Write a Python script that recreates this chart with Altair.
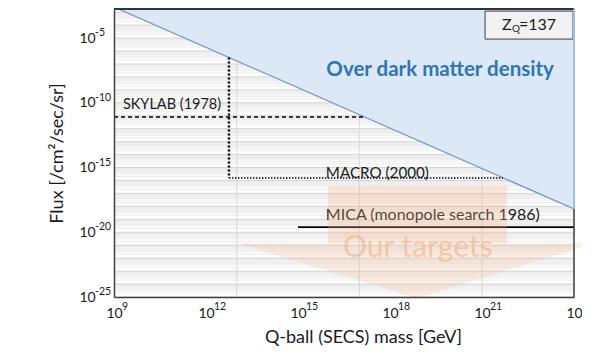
import altair as alt
import pandas as pd

# ---- axis ticks (base "10" with exponents) ----
mass_tick_exp = [9, 12, 15, 18, 21, 24]
mass_tick_exp_labels = ["9", "12", "15", "18", "21", "24"]
flux_tick_exp = [-25, -20, -15, -10, -5]
flux_tick_exp_labels = ["-25", "-20", "-15", "-10", "-5"]
tick_base_label = "10"

mass_domain = [1e9, 1e24]
flux_domain = [1e-25, 1.75e-3]

# ---- gridlines ----
grid_decades = list(range(-25, -2))
grid_minor_mult = [2, 3, 4, 5, 6, 7, 8, 9]
vgrid_mass = [1e13, 1e17, 1e21]

# ---- dark matter density bound ----
dm_mass = [1e9, 1e24]
dm_flux = [2.5e-3, 6.3e-19]

# ---- experimental limits ----
skylab_mass = [1e9, 1.4e17]
skylab_flux = [7.9e-12, 7.9e-12]
macro_v_mass = [5.6e12, 5.6e12]
macro_v_flux = [3.2e-7, 1.55e-16]
macro_h_mass = [5.6e12, 4.8e21]
macro_h_flux = [1.55e-16, 1.55e-16]
mica_mass = [1e15, 1e24]
mica_flux = [2.5e-20, 2.5e-20]

# ---- annotations (data coordinates) ----
label_text = ["SKYLAB (1978)", "MACRO (2000)", "MICA (monopole search 1986)"]
label_mass = [1.95e9, 8.1e15, 8.1e15]
label_flux = [6.8e-11, 3.8e-16, 2.1e-19]
label_size = [14.5, 15.2, 16]

dm_label_text = ["Over dark matter density"]
dm_label_mass = [4.3e19]
dm_label_flux = [3.4e-8]

target_text = ["Our targets"]
target_mass = [8.1e18]
target_flux = [6.0e-22]

arrow_body_mass = [9.5e15, 6.5e21]
arrow_body_flux = [3.7e-17, 1.5e-21]
arrow_head_mass = [1.0e13, 7.6e18, 4.8e24]
arrow_head_top = [1.5e-21, 1.5e-21, 1.5e-21]
arrow_head_bottom = [1.5e-21, 7.9e-26, 1.5e-21]

zbox_mass = [1.26e21, 9.3e23]
zbox_flux = [1.2e-3, 8.3e-6]
ztext_mass = [4.5e21]
ztext_flux = [1.0e-4]

FONT = "Lato"
TXT = "#1a1a1a"

xs = alt.Scale(type="log", domain=mass_domain, nice=False)
ys = alt.Scale(type="log", domain=flux_domain, nice=False)

x_axis = alt.Axis(
    values=[float(f"1e{k}") for k in mass_tick_exp],
    labelExpr=f"'{tick_base_label}'",
    title="Q-ball (SECS) mass [GeV]", grid=False, ticks=False, tickSize=0,
    domain=True, domainColor="#404040", domainWidth=1.5,
    labelFlush=False, labelOverlap=False, labelPadding=16, labelBaseline="middle",
    labelFont=FONT, labelFontSize=14, labelColor=TXT,
    titleFont=FONT, titleFontSize=18, titleFontWeight="normal", titleColor=TXT,
    titleX=249, titleY=40, titleBaseline="middle", zindex=1,
)
y_axis = alt.Axis(
    values=[float(f"1e{k}") for k in flux_tick_exp],
    labelExpr=f"'{tick_base_label}'",
    title="Flux [/cm²/sec/sr]", grid=False, ticks=False, tickSize=0,
    domain=True, domainColor="#404040", domainWidth=1.5,
    labelFlush=False, labelOverlap=False, labelPadding=35, labelAlign="left",
    labelBaseline="middle",
    labelFont=FONT, labelFontSize=14, labelColor=TXT,
    titleFont=FONT, titleFontSize=18, titleFontWeight="normal", titleColor=TXT,
    titleX=-57, titleY=144, titleBaseline="middle", zindex=1,
)


def X(field):
    return alt.X(field, scale=xs, axis=x_axis)


def Y(field):
    return alt.Y(field, scale=ys, axis=y_axis)


minor_vals = [m * 10.0 ** k for k in grid_decades for m in grid_minor_mult
              if m * 10.0 ** k < flux_domain[1]]
major_vals = [float(f"1e{k}") for k in grid_decades]

hminor = alt.Chart(pd.DataFrame({"flux": minor_vals})).mark_rule(
    color="#ececec", strokeWidth=1).encode(y=Y("flux:Q"))
hmajor = alt.Chart(pd.DataFrame({"flux": major_vals})).mark_rule(
    color="#d4d4d4", strokeWidth=1).encode(y=Y("flux:Q"))
vgrid = alt.Chart(pd.DataFrame({"mass": vgrid_mass})).mark_rule(
    color="#dcdcdc", strokeWidth=1.2).encode(x=X("mass:Q"))

dm_df = pd.DataFrame({"mass": dm_mass, "flux": dm_flux, "top": [flux_domain[1]] * 2})
dm_area = alt.Chart(dm_df).mark_area(color="#dce8f5", opacity=1, clip=True).encode(
    x=X("mass:Q"), y=Y("flux:Q"), y2="top:Q")
dm_line = alt.Chart(dm_df).mark_line(color="#6f94c6", strokeWidth=1.2, clip=True).encode(
    x=X("mass:Q"), y=Y("flux:Q"))


def line(mass, flux, **kw):
    return alt.Chart(pd.DataFrame({"mass": mass, "flux": flux})).mark_line(**kw).encode(
        x=X("mass:Q"), y=Y("flux:Q"))


skylab = line(skylab_mass, skylab_flux, color="#000000", strokeWidth=1.6, strokeDash=[4, 3])
macro_v = line(macro_v_mass, macro_v_flux, color="#000000", strokeWidth=2.4, strokeDash=[2, 2])
macro_h = line(macro_h_mass, macro_h_flux, color="#000000", strokeWidth=1.4, strokeDash=[1.5, 1.5])
mica = line(mica_mass, mica_flux, color="#000000", strokeWidth=1.6)

labels = alt.Chart(pd.DataFrame({"mass": label_mass, "flux": label_flux, "t": label_text,
                                 "s": label_size})).mark_text(
    align="left", baseline="middle", font=FONT, color=TXT).encode(
    x=X("mass:Q"), y=Y("flux:Q"), text="t:N", size=alt.Size("s:Q", scale=None, legend=None))

dm_label = alt.Chart(pd.DataFrame({"mass": dm_label_mass, "flux": dm_label_flux, "t": dm_label_text})).mark_text(
    align="center", baseline="middle", font=FONT, fontSize=20.5, fontWeight="bold", color="#2e75b6").encode(
    x=X("mass:Q"), y=Y("flux:Q"), text="t:N")

arrow_body = alt.Chart(pd.DataFrame({"m1": [arrow_body_mass[0]], "m2": [arrow_body_mass[1]],
                                     "f1": [arrow_body_flux[0]], "f2": [arrow_body_flux[1]]})).mark_rect(
    color="#f4b183", opacity=0.28).encode(
    x=X("m1:Q"), x2="m2:Q", y=Y("f1:Q"), y2="f2:Q")
arrow_head = alt.Chart(pd.DataFrame({"mass": arrow_head_mass, "top": arrow_head_top,
                                     "bot": arrow_head_bottom})).mark_area(
    color="#f4b183", opacity=0.2).encode(
    x=X("mass:Q"), y=Y("top:Q"), y2="bot:Q")

target = alt.Chart(pd.DataFrame({"mass": target_mass, "flux": target_flux, "t": target_text})).mark_text(
    align="center", baseline="middle", font=FONT, fontSize=30, color="#f4b183", opacity=0.6).encode(
    x=X("mass:Q"), y=Y("flux:Q"), text="t:N")

zbox = alt.Chart(pd.DataFrame({"m1": [zbox_mass[0]], "m2": [zbox_mass[1]],
                               "f1": [zbox_flux[0]], "f2": [zbox_flux[1]]})).mark_rect(
    fill="#f2f2f2", stroke="#404040", strokeWidth=1).encode(
    x=X("m1:Q"), x2="m2:Q", y=Y("f1:Q"), y2="f2:Q")

zdf = pd.DataFrame({"mass": ztext_mass, "flux": ztext_flux})
z1 = alt.Chart(zdf).mark_text(text="Z", align="left", baseline="middle", font=FONT,
                              fontSize=16, color=TXT, dx=0).encode(x=X("mass:Q"), y=Y("flux:Q"))
z2 = alt.Chart(zdf).mark_text(text="Q", align="left", baseline="middle", font=FONT,
                              fontSize=10, color=TXT, dx=10, dy=4).encode(x=X("mass:Q"), y=Y("flux:Q"))
z3 = alt.Chart(zdf).mark_text(text="=137", align="left", baseline="middle", font=FONT,
                              fontSize=16, color=TXT, dx=17).encode(x=X("mass:Q"), y=Y("flux:Q"))

# tick-label exponents (superscripts)
x_exp = alt.Chart(pd.DataFrame({"mass": [float(f"1e{k}") for k in mass_tick_exp],
                                "flux": [flux_domain[0]] * len(mass_tick_exp),
                                "t": mass_tick_exp_labels})).mark_text(
    align="left", baseline="middle", font=FONT, fontSize=10.5, color=TXT, dx=8, dy=10).encode(
    x=X("mass:Q"), y=Y("flux:Q"), text="t:N")
y_exp = alt.Chart(pd.DataFrame({"mass": [mass_domain[0]] * len(flux_tick_exp),
                                "flux": [float(f"1e{k}") for k in flux_tick_exp],
                                "t": flux_tick_exp_labels})).mark_text(
    align="left", baseline="middle", font=FONT, fontSize=10.5, color=TXT, dx=-19, dy=-5).encode(
    x=X("mass:Q"), y=Y("flux:Q"), text="t:N")

# frame pieces (top, right)
top_rule = alt.Chart(pd.DataFrame({"flux": [flux_domain[1]]})).mark_rule(
    color="#2b3445", strokeWidth=2).encode(y=Y("flux:Q"))
right_low = alt.Chart(pd.DataFrame({"mass": [mass_domain[1]], "f1": [flux_domain[0]], "f2": [dm_flux[1]]})).mark_rule(
    color="#404040", strokeWidth=1.5).encode(x=X("mass:Q"), y=Y("f1:Q"), y2="f2:Q")
right_high = alt.Chart(pd.DataFrame({"mass": [mass_domain[1]], "f1": [dm_flux[1]], "f2": [flux_domain[1]]})).mark_rule(
    color="#9dbfe3", strokeWidth=2).encode(x=X("mass:Q"), y=Y("f1:Q"), y2="f2:Q")

chart = alt.layer(
    hminor, hmajor, vgrid, dm_area, dm_line, skylab, macro_v, macro_h, mica,
    labels, dm_label, arrow_body, arrow_head, target, zbox, z1, z2, z3,
    x_exp, y_exp, top_rule, right_low, right_high,
).properties(
    width=460, height=288,
    autosize=alt.AutoSizeParams(type="none"),
    padding={"left": 106, "top": 1, "right": 8, "bottom": 56},
).configure_view(stroke=None).configure(background="white")

chart.save("out.html", embed_options={"renderer": "svg", "actions": False})
